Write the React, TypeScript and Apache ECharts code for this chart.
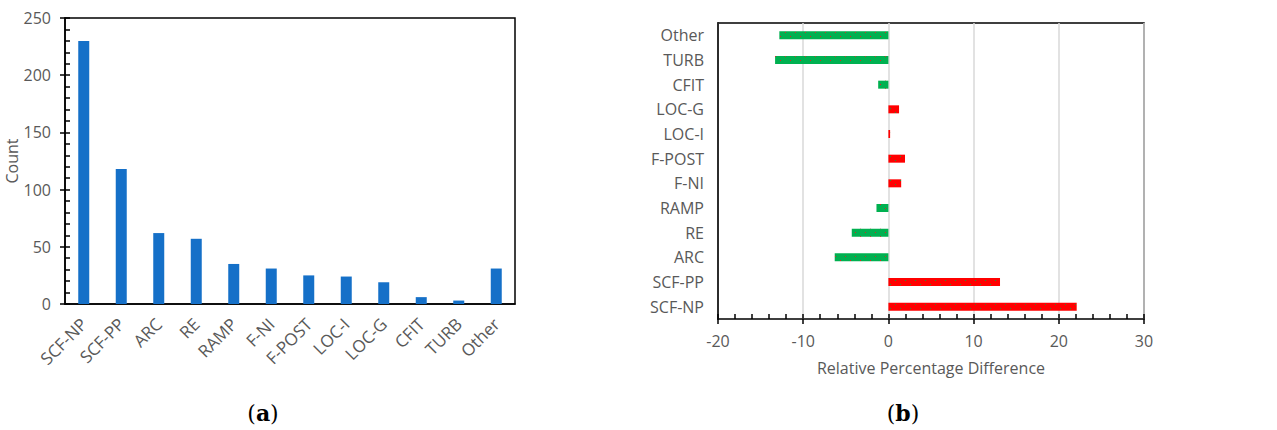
import React, { useEffect, useRef } from "react";
import * as echarts from "echarts";

const countCategories = ["SCF-NP", "SCF-PP", "ARC", "RE", "RAMP", "F-NI", "F-POST", "LOC-I", "LOC-G", "CFIT", "TURB", "Other"];
const countValues = [230, 118, 62, 57, 35, 31, 25, 24, 19, 6, 3, 31];

const diffCategories = ["SCF-NP", "SCF-PP", "ARC", "RE", "RAMP", "F-NI", "F-POST", "LOC-I", "LOC-G", "CFIT", "TURB", "Other"];
const diffValues = [22.1, 13.1, -6.3, -4.3, -1.4, 1.5, 1.95, 0.2, 1.25, -1.2, -13.3, -12.8];

const FONT = "'Open Sans', sans-serif";
const GREY = "#595959";
const FS = 16;

export default function App() {
  const ref = useRef<HTMLDivElement>(null);
  useEffect(() => {
    document.body.style.margin = "0";
    const chart = echarts.init(ref.current!, null, { renderer: "svg" });
    const redDecal = {
      symbol: "rect",
      symbolSize: 1,
      color: "#1a9a3a",
      dashArrayX: [[1, 9], [0, 5, 1, 4]],
      dashArrayY: [1, 3],
    };
    const greenDecal = {
      symbol: "rect",
      symbolSize: 1,
      color: "#e02020",
      dashArrayX: [[1, 9], [0, 5, 1, 4]],
      dashArrayY: [1, 3],
    };
    const caption = (letter: string, x: number) => ({
      type: "text",
      x,
      y: 413,
      style: {
        text: "({b|" + letter + "})",
        fontSize: 22,
        fontFamily: "'DejaVu Serif', serif",
        fill: "#000",
        align: "center",
        verticalAlign: "middle",
        rich: { b: { fontWeight: "bold", fontSize: 22, fontFamily: "'DejaVu Serif', serif" } },
      },
    });
    chart.setOption({
      animation: false,
      textStyle: { fontFamily: FONT },
      grid: [
        { left: 65, top: 18, right: 762, bottom: 126, show: true, borderColor: "#000", borderWidth: 1.5, backgroundColor: "transparent" },
        { left: 718, top: 23, right: 133, bottom: 111, show: true, borderColor: "#000", borderWidth: 1.5, backgroundColor: "transparent" },
      ],
      xAxis: [
        {
          gridIndex: 0,
          type: "category",
          data: countCategories,
          axisLine: { lineStyle: { color: "#000", width: 1.5 } },
          axisTick: { length: 6, lineStyle: { color: "#000", width: 1.5 } },
          axisLabel: { rotate: 45, fontSize: 17, color: GREY, margin: 17, fontFamily: FONT },
        },
        {
          gridIndex: 1,
          type: "value",
          position: "bottom",
          min: -20,
          max: 30,
          interval: 10,
          axisLine: { lineStyle: { color: "#000", width: 1.5 } },
          axisTick: { show: true, length: 5, lineStyle: { color: "#000", width: 1.5 } },
          axisLabel: { fontSize: FS, color: GREY, margin: 14, fontFamily: FONT },
          splitLine: { show: true, lineStyle: { color: "#d9d9d9", width: 1.5 } },
          name: "Relative Percentage Difference",
          nameLocation: "middle",
          nameGap: 41,
          nameTextStyle: { fontSize: FS, color: GREY, fontFamily: FONT },
        },
        {
          gridIndex: 1,
          type: "value",
          position: "bottom",
          min: -20,
          max: 30,
          interval: 2,
          axisLine: { show: false },
          axisTick: { show: true, inside: true, length: 5, lineStyle: { color: "#000", width: 1.5 } },
          axisLabel: { show: false },
          splitLine: { show: false },
        },
      ],
      yAxis: [
        {
          gridIndex: 0,
          type: "value",
          min: 0,
          max: 250,
          interval: 50,
          axisLine: { show: true, lineStyle: { color: "#000", width: 1.5 } },
          axisTick: { show: true, length: 5, lineStyle: { color: "#000", width: 1.5 } },
          axisLabel: { fontSize: FS, color: GREY, margin: 14, fontFamily: FONT },
          splitLine: { show: false },
          name: "Count",
          nameLocation: "middle",
          nameGap: 42,
          nameTextStyle: { fontSize: FS, color: GREY, fontFamily: FONT },
        },
        {
          gridIndex: 0,
          type: "value",
          position: "left",
          min: 0,
          max: 250,
          interval: 10,
          axisLine: { show: false },
          axisTick: { show: true, inside: true, length: 5, lineStyle: { color: "#000", width: 1.5 } },
          axisLabel: { show: false },
          splitLine: { show: false },
        },
        {
          gridIndex: 1,
          type: "category",
          data: diffCategories,
          axisLine: { show: true, onZero: false, lineStyle: { color: "#000", width: 1.5 } },
          axisTick: { show: false },
          axisLabel: { fontSize: FS, color: GREY, margin: 14, fontFamily: FONT },
        },
      ],
      series: [
        {
          type: "bar",
          xAxisIndex: 0,
          yAxisIndex: 0,
          data: countValues,
          barWidth: 11,
          itemStyle: { color: "#1570C8" },
        },
        {
          type: "bar",
          xAxisIndex: 1,
          yAxisIndex: 2,
          barWidth: 8,
          data: diffValues.map((v) => ({
            value: v,
            itemStyle: v >= 0 ? { color: "#FF0000", decal: redDecal } : { color: "#00B050", decal: greenDecal },
          })),
        },
      ],
      graphic: [caption("a", 263), caption("b", 903)],
    });
    return () => chart.dispose();
  }, []);
  return <div ref={ref} style={{ width: 1277, height: 430 }} />;
}
